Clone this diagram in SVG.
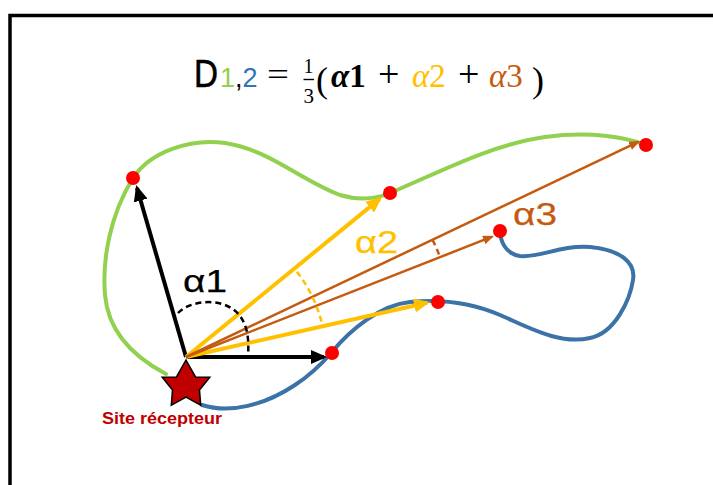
<svg xmlns="http://www.w3.org/2000/svg" width="713" height="485" viewBox="0 0 713 485">
<defs>
<style>
.sans{font-family:"Liberation Sans","Open Sans",Arial,sans-serif}
.math{font-family:"Liberation Serif","DejaVu Serif",serif}
.curve{fill:none;stroke-width:4;stroke-linecap:round}
.dot{fill:#ff0000}
.dash{fill:none;stroke-dasharray:6 4;stroke-width:2.5}
.lbl{font-size:32px;stroke-width:0.25}
</style>
<marker id="ah-black" markerUnits="userSpaceOnUse" markerWidth="16" markerHeight="14" viewBox="0 0 16 14" refX="13" refY="7" orient="auto"><path d="M0,0 L16,7 L0,14 z" fill="#000"/></marker>
<marker id="ah-yellow" markerUnits="userSpaceOnUse" markerWidth="16" markerHeight="14" viewBox="0 0 16 14" refX="13" refY="7" orient="auto"><path d="M0,0 L16,7 L0,14 z" fill="#ffc000"/></marker>
<marker id="ah-orange" markerUnits="userSpaceOnUse" markerWidth="11" markerHeight="9" viewBox="0 0 11 9" refX="9" refY="4.5" orient="auto"><path d="M0,0 L11,4.5 L0,9 z" fill="#c55a11"/></marker>
</defs>
<rect width="713" height="485" fill="#ffffff"/>
<path d="M10,500 L10,15.5 L720,15.5" fill="none" stroke="#000" stroke-width="3.5"/>

<g id="title">
<text class="sans" x="194" y="87" font-size="38" textLength="24" lengthAdjust="spacingAndGlyphs" fill="#000" stroke="#000" stroke-width="0.6">D</text>
<text class="sans" x="220" y="87" font-size="27" fill="#000"><tspan fill="#92d050">1</tspan>,<tspan fill="#2e75b6">2</tspan></text>
<text class="math" x="267" y="85" font-size="32" textLength="22" lengthAdjust="spacingAndGlyphs" fill="#000">=</text>
<text class="math" x="303.5" y="73" font-size="20" fill="#000">1</text>
<line x1="303.5" y1="79.5" x2="314" y2="79.5" stroke="#000" stroke-width="1.4"/>
<text class="math" x="303.5" y="103" font-size="21" fill="#000">3</text>
<text class="math" x="316" y="92" font-size="36" fill="#000">(</text>
<text class="math" x="331" y="87" font-size="33" font-weight="bold" fill="#000"><tspan font-style="italic">α</tspan>1</text>
<text class="math" x="378" y="87" font-size="38" fill="#000">+</text>
<text class="math" x="412" y="87" font-size="33" fill="#ffc000"><tspan font-style="italic">α</tspan>2</text>
<text class="math" x="458" y="87" font-size="38" fill="#000">+</text>
<text class="math" x="489" y="87" font-size="33" fill="#c55a11"><tspan font-style="italic">α</tspan>3</text>
<text class="math" x="532" y="92" font-size="36" fill="#000">)</text>
</g>

<g id="contour">
<path id="green-curve" class="curve" stroke="#92d050" d="M166,374 C130,355 108,330 105,295 C102,260 110,215 133,178 C150,152 190,138 225,143 C270,150 300,180 340,195 C360,201 378,198 390,193 C440,172 490,145 545,137 C590,131 625,137 646,145"/>
<path id="blue-curve" class="curve" stroke="#3b72a8" d="M202,405 C230,414 265,405 295,385 C315,372 325,360 332,352 C350,330 380,305 410,302 C440,299 470,302 500,315 C530,328 560,345 590,338 C615,333 630,300 633,280 C636,262 620,250 590,247 C560,245 540,258 520,256 C505,254 500,240 500,230"/>
</g>

<g id="connectors">
<line x1="186" y1="357" x2="137" y2="188" stroke="#000" stroke-width="4" marker-end="url(#ah-black)"/>
<line x1="186" y1="357" x2="324" y2="357" stroke="#000" stroke-width="4" marker-end="url(#ah-black)"/>
<line x1="186" y1="357" x2="379.7" y2="198.9" stroke="#ffc000" stroke-width="4" marker-end="url(#ah-yellow)"/>
<line x1="186" y1="357" x2="427" y2="302.7" stroke="#ffc000" stroke-width="4" marker-end="url(#ah-yellow)"/>
<line x1="186" y1="357" x2="638.2" y2="141.9" stroke="#c55a11" stroke-width="2.5" marker-end="url(#ah-orange)"/>
<line x1="186" y1="357" x2="492.1" y2="236.7" stroke="#c55a11" stroke-width="2.5" marker-end="url(#ah-orange)"/>
<path class="dash" stroke="#000" d="M178,313 C190,300 225,296 240,316 C248,327 249,340 248,357"/>
<path class="dash" stroke="#ffc000" d="M296.9,271.7 A140,140 0 0 1 322.6,326.2"/>
<path class="dash" stroke="#c55a11" stroke-dasharray="4 3" stroke-width="2" d="M432.6,239.9 A273,273 0 0 1 440.0,256.9"/>
</g>

<g id="points">
<circle class="dot" cx="133" cy="178" r="7"/>
<circle class="dot" cx="390" cy="193" r="7"/>
<circle class="dot" cx="646" cy="145" r="7"/>
<circle class="dot" cx="500" cy="231" r="7"/>
<circle class="dot" cx="438" cy="302" r="7"/>
<circle class="dot" cx="332" cy="353" r="7"/>
</g>

<g id="labels">
<text class="sans lbl" x="183" y="292" textLength="44" lengthAdjust="spacingAndGlyphs" fill="#000" stroke="#000">α1</text>
<text class="sans lbl" x="355" y="253" textLength="43" lengthAdjust="spacingAndGlyphs" fill="#ffc000" stroke="#ffc000">α2</text>
<text class="sans lbl" x="513" y="225" textLength="44" lengthAdjust="spacingAndGlyphs" fill="#c55a11" stroke="#c55a11">α3</text>
</g>

<g id="site">
<polygon points="186,360 195.5,376.9 209.8,377.3 199.5,390 200.7,405.2 186,397 171.3,405.2 172.5,390 162.2,377.3 176.5,376.9" fill="#c00000" stroke="#000" stroke-width="1.5" stroke-linejoin="miter"/>
<text class="sans" x="102" y="424" font-size="16" font-weight="bold" textLength="120" lengthAdjust="spacingAndGlyphs" fill="#c00000">Site récepteur</text>
</g>
</svg>
